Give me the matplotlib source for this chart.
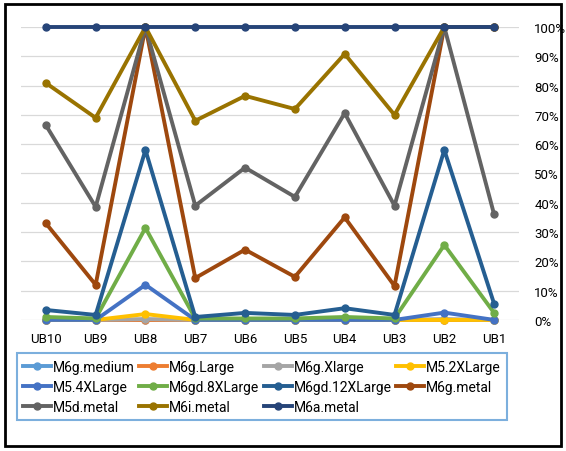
import numpy as np
import matplotlib.pyplot as plt
from matplotlib.patches import Rectangle
from matplotlib.ticker import PercentFormatter

plt.rcParams['font.family'] = ['Roboto', 'DejaVu Sans']

# Categories along the x axis
buckets = ['UB10', 'UB9', 'UB8', 'UB7', 'UB6', 'UB5', 'UB4', 'UB3', 'UB2', 'UB1']

# Share per instance type (fraction 0..1)
m6g_medium = [0, 0, 0, 0, 0, 0, 0, 0, 0, 0]
m6g_large = [0, 0, 0, 0, 0, 0, 0, 0, 0, 0]
m6g_xlarge = [0, 0, 0.003, 0, 0, 0, 0, 0, 0.003, 0]
m5_2xlarge = [0, 0, 0.02, 0, 0, 0, 0, 0, 0, 0]
m5_4xlarge = [0, 0, 0.12, 0, 0, 0, 0, 0, 0.025, 0]
m6gd_8xlarge = [0.01, 0.005, 0.314, 0.005, 0.005, 0.005, 0.01, 0.005, 0.256, 0.024]
m6gd_12xlarge = [0.034, 0.017, 0.58, 0.01, 0.024, 0.017, 0.04, 0.017, 0.58, 0.055]
m6g_metal = [0.33, 0.12, 1.0, 0.143, 0.24, 0.147, 0.35, 0.116, 1.0, 1.0]
m5d_metal = [0.665, 0.386, 1.0, 0.39, 0.52, 0.42, 0.706, 0.39, 1.0, 0.36]
m6i_metal = [0.809, 0.69, 1.0, 0.68, 0.765, 0.72, 0.908, 0.70, 1.0, 1.0]
m6a_metal = [1.0, 1.0, 1.0, 1.0, 1.0, 1.0, 1.0, 1.0, 1.0, 1.0]

series = [
    ('M6g.medium', m6g_medium, '#5B9BD5'),
    ('M6g.Large', m6g_large, '#ED7D31'),
    ('M6g.Xlarge', m6g_xlarge, '#A5A5A5'),
    ('M5.2XLarge', m5_2xlarge, '#FFC000'),
    ('M5.4XLarge', m5_4xlarge, '#4472C4'),
    ('M6gd.8XLarge', m6gd_8xlarge, '#70AD47'),
    ('M6gd.12XLarge', m6gd_12xlarge, '#255E91'),
    ('M6g.metal', m6g_metal, '#9E480E'),
    ('M5d.metal', m5d_metal, '#636363'),
    ('M6i.metal', m6i_metal, '#997300'),
    ('M6a.metal', m6a_metal, '#264478'),
]

fig = plt.figure(figsize=(5.66, 4.52), dpi=100)
ax = fig.add_axes([0.037, 0.29, 0.88, 0.648])

x = np.arange(len(buckets))
for name, vals, color in series:
    ax.plot(x, vals, '-o', color=color, linewidth=2.8, markersize=5,
            label=name, clip_on=False)

ax.set_xlim(-0.5, len(buckets) - 0.5)
ax.set_ylim(0, 1.0)
ax.set_yticks(np.arange(0, 1.01, 0.1))
ax.yaxis.set_major_formatter(PercentFormatter(1.0, decimals=0))
ax.yaxis.tick_right()
ax.set_xticks(x)
ax.set_xticklabels(buckets)
ax.tick_params(axis='y', length=0, pad=11, labelsize=9.5)
ax.tick_params(axis='x', length=0, pad=9, labelsize=9.5)
ax.grid(axis='y', color='#D9D9D9', linewidth=0.9)
ax.set_axisbelow(True)
for s in ax.spines.values():
    s.set_visible(False)

# legend reads row by row, four entries per row
handles, labels = ax.get_legend_handles_labels()
order = [0, 4, 8, 1, 5, 9, 2, 6, 10, 3, 7]
leg = fig.legend([handles[i] for i in order], [labels[i] for i in order],
                 loc='upper left', bbox_to_anchor=(0.03, 0.064, 0.866, 0.152),
                 mode='expand', ncol=4, fontsize=10, frameon=True,
                 fancybox=False, handlelength=2.0, handletextpad=0.15,
                 borderaxespad=0, labelspacing=0.45, borderpad=0.45,
                 columnspacing=0.8)
leg.get_frame().set_edgecolor('#5B9BD5')
leg.get_frame().set_linewidth(1.5)

# outer frame round the whole chart
fig.patches.append(Rectangle((0.009, 0.011), 0.982, 0.978, transform=fig.transFigure,
                             fill=False, edgecolor='black', linewidth=2))

fig.savefig('out.png', dpi=100)
